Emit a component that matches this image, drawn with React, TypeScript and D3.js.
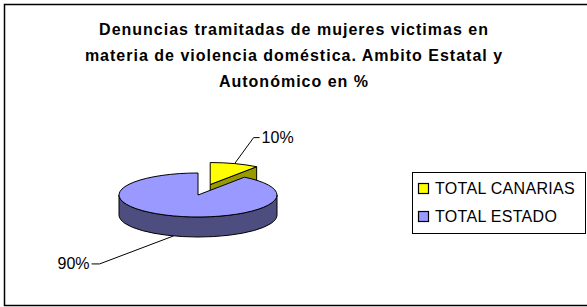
import * as d3 from "d3"

const categories = ["TOTAL CANARIAS", "TOTAL ESTADO"]
const values = [10, 90]
const titleLines = [
  "Denuncias tramitadas de mujeres victimas en",
  "materia de violencia doméstica. Ambito Estatal y",
  "Autonómico en %",
]

const topColors = ["#FFFF00", "#9999FF"]
const sideColors = ["#999900", "#4D4D80"]

const W = 587
const H = 307
const FONT = "'Liberation Sans', Arial, sans-serif"

// pie geometry (ellipse projection of a tilted disc)
const cx = 198
const cy = 195
const rx = 79
const ry = 22
const depth = 20
const explode = [0.5, 0]

// label elbow offsets relative to leader anchor
const labelOffsets = [
  [19, -26, 6],
  [-74, 28, -8],
]

type Pt = [number, number]

const proj = (a: number, ox: number, oy: number, dz = 0): Pt => [
  ox + rx * Math.sin(a),
  oy - ry * Math.cos(a) + dz,
]

const App = () => {
  const pie = d3.pie<number>().sort(null).value(d => d)
  const arcs = pie(values)
  const total = d3.sum(values)

  const slices = arcs.map((a, i) => {
    const mid = (a.startAngle + a.endAngle) / 2
    const e = explode[i]
    const ox = cx + e * rx * Math.sin(mid)
    const oy = cy - e * ry * Math.cos(mid)
    const large = a.endAngle - a.startAngle > Math.PI ? 1 : 0

    const top = d3.path()
    const p0 = proj(a.startAngle, ox, oy)
    const p1 = proj(a.endAngle, ox, oy)
    top.moveTo(ox, oy)
    top.lineTo(p0[0], p0[1])
    const topD =
      top.toString() +
      `A${rx},${ry} 0 ${large} 1 ${p1[0]},${p1[1]}Z`

    // outer side, front half only
    const s0 = Math.max(a.startAngle, Math.PI / 2)
    const s1 = Math.min(a.endAngle, (3 * Math.PI) / 2)
    let sideD = ""
    if (s1 > s0) {
      const q0 = proj(s0, ox, oy)
      const q1 = proj(s1, ox, oy)
      const q1b = proj(s1, ox, oy, depth)
      const q0b = proj(s0, ox, oy, depth)
      sideD =
        `M${q0[0]},${q0[1]}A${rx},${ry} 0 0 1 ${q1[0]},${q1[1]}` +
        `L${q1b[0]},${q1b[1]}A${rx},${ry} 0 0 0 ${q0b[0]},${q0b[1]}Z`
    }

    // radial cut face at end angle (faces the viewer when it points down-right)
    let cutD = ""
    if (Math.cos(a.endAngle) > 0 && Math.sin(a.endAngle) > 0 && a.endAngle < Math.PI) {
      const cut = d3.path()
      cut.moveTo(ox, oy)
      cut.lineTo(p1[0], p1[1])
      cut.lineTo(p1[0], p1[1] + depth)
      cut.lineTo(ox, oy + depth)
      cut.closePath()
      cutD = cut.toString()
    }

    // leader anchor: top rim for back slices, bottom rim for front slices
    const front = Math.cos(mid) < 0
    const anchor = proj(mid, ox, oy, front ? depth : 0)
    const [ex, ey, hx] = labelOffsets[i]
    const elbow: Pt = [anchor[0] + ex, anchor[1] + ey]
    const end: Pt = [elbow[0] + hx, elbow[1]]

    return {
      i, topD, sideD, cutD, anchor, elbow, end,
      label: `${Math.round((a.value / total) * 100)}%`,
      left: hx < 0,
    }
  })

  // back (exploded) slice first, then the front slice covers it
  const order = [0, 1]

  return (
    <svg width={W} height={H} style={{ position: "absolute", left: 0, top: 0 }}
      fontFamily={FONT}>
      <rect x={0} y={0} width={W} height={H} fill="#fff" />
      <rect x={4.5} y={4.5} width={640} height={301} fill="#fff" stroke="#000" strokeWidth={1.5} />

      <g fontSize={16} fontWeight="bold" textAnchor="middle" letterSpacing={1} fill="#000">
        {titleLines.map((t, i) => (
          <text key={i} x={294} y={35 + i * 26}>{t}</text>
        ))}
      </g>

      {order.map(k => {
        const s = slices[k]
        return (
          <g key={k} stroke="#000" strokeWidth={1} strokeLinejoin="round">
            {s.sideD && <path d={s.sideD} fill={sideColors[k]} />}
            {s.cutD && <path d={s.cutD} fill={sideColors[k]} />}
            <path d={s.topD} fill={topColors[k]} />
          </g>
        )
      })}

      {slices.map(s => (
        <g key={s.i}>
          <polyline
            points={[s.anchor, s.elbow, s.end].map(p => p.join(",")).join(" ")}
            fill="none" stroke="#000" strokeWidth={1} />
          <text x={s.end[0] + (s.left ? -2 : 2)} y={s.end[1] + 5.5}
            fontSize={16} textAnchor={s.left ? "end" : "start"}>{s.label}</text>
        </g>
      ))}

      <g>
        <rect x={412.5} y={172.5} width={173} height={61} fill="#fff" stroke="#000" strokeWidth={1} />
        {categories.map((c, i) => (
          <g key={c} transform={`translate(418,${183 + i * 28})`}>
            <rect x={0.5} y={0.5} width={10} height={10} fill={topColors[i]} stroke="#000" strokeWidth={1.2} />
            <text x={17} y={11} fontSize={16} letterSpacing={0.3}>{c}</text>
          </g>
        ))}
      </g>
    </svg>
  )
}

export default App
